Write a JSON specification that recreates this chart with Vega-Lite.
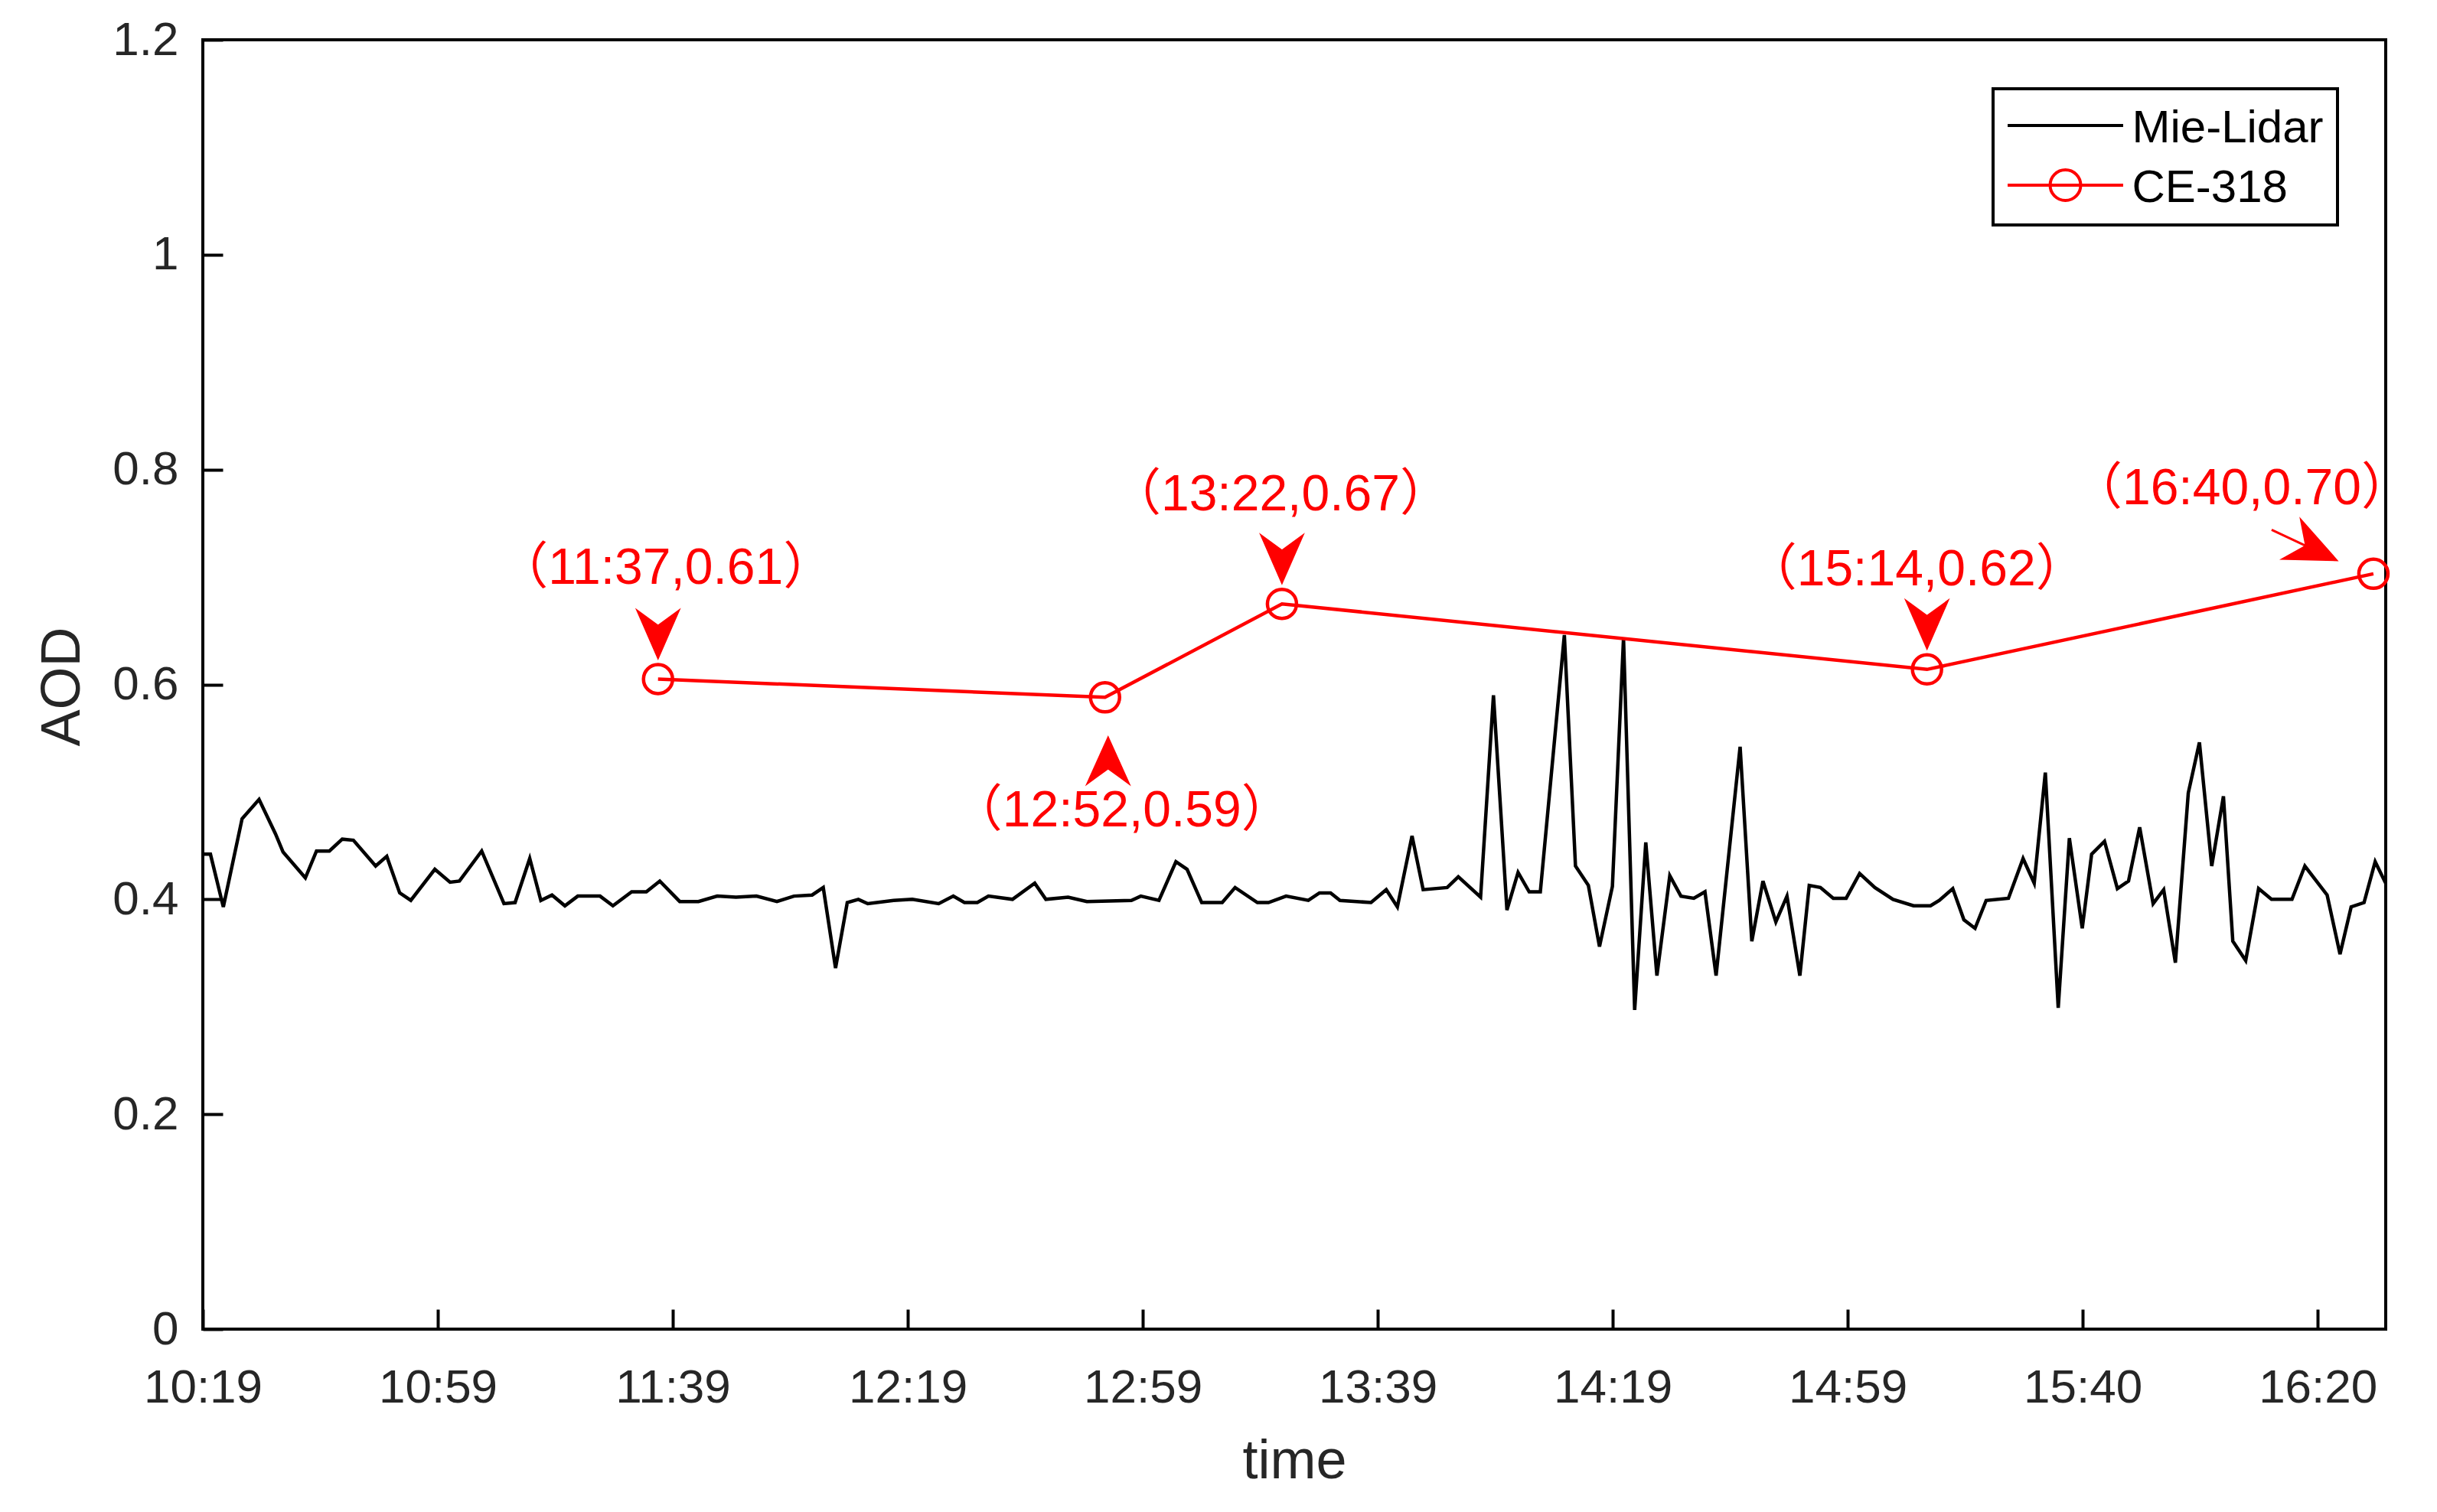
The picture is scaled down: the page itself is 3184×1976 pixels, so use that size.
{
  "$schema": "https://vega.github.io/schema/vega-lite/v6.json",
  "width": 2852,
  "height": 1685,
  "autosize": {"type": "none"},
  "padding": {"left": 265, "top": 52, "right": 67, "bottom": 239},
  "background": "white",
  "config": {
    "view": {"stroke": "black", "strokeWidth": 4},
    "font": "Liberation Sans"
  },
  "datasets": {
    "lidar": [
      {"t":619.0,"aod":0.442,"series":"Mie-Lidar"},{"t":620.3,"aod":0.442,"series":"Mie-Lidar"},{"t":622.5,"aod":0.393,"series":"Mie-Lidar"},{"t":625.7,"aod":0.475,"series":"Mie-Lidar"},{"t":628.6,"aod":0.493,"series":"Mie-Lidar"},{"t":631.4,"aod":0.461,"series":"Mie-Lidar"},{"t":632.7,"aod":0.444,"series":"Mie-Lidar"},{"t":636.5,"aod":0.420,"series":"Mie-Lidar"},{"t":638.4,"aod":0.445,"series":"Mie-Lidar"},{"t":640.6,"aod":0.445,"series":"Mie-Lidar"},{"t":642.8,"aod":0.456,"series":"Mie-Lidar"},{"t":644.7,"aod":0.455,"series":"Mie-Lidar"},{"t":648.5,"aod":0.431,"series":"Mie-Lidar"},{"t":650.4,"aod":0.440,"series":"Mie-Lidar"},{"t":652.6,"aod":0.406,"series":"Mie-Lidar"},{"t":654.5,"aod":0.399,"series":"Mie-Lidar"},{"t":658.6,"aod":0.428,"series":"Mie-Lidar"},{"t":661.2,"aod":0.416,"series":"Mie-Lidar"},{"t":662.8,"aod":0.417,"series":"Mie-Lidar"},{"t":666.6,"aod":0.445,"series":"Mie-Lidar"},{"t":670.4,"aod":0.396,"series":"Mie-Lidar"},{"t":672.3,"aod":0.397,"series":"Mie-Lidar"},{"t":674.8,"aod":0.438,"series":"Mie-Lidar"},{"t":676.7,"aod":0.399,"series":"Mie-Lidar"},{"t":678.6,"aod":0.404,"series":"Mie-Lidar"},{"t":680.8,"aod":0.394,"series":"Mie-Lidar"},{"t":683.0,"aod":0.403,"series":"Mie-Lidar"},{"t":686.8,"aod":0.403,"series":"Mie-Lidar"},{"t":689.0,"aod":0.394,"series":"Mie-Lidar"},{"t":692.2,"aod":0.407,"series":"Mie-Lidar"},{"t":694.7,"aod":0.407,"series":"Mie-Lidar"},{"t":697.0,"aod":0.417,"series":"Mie-Lidar"},{"t":700.4,"aod":0.398,"series":"Mie-Lidar"},{"t":703.6,"aod":0.398,"series":"Mie-Lidar"},{"t":706.8,"aod":0.403,"series":"Mie-Lidar"},
      {"t":710.0,"aod":0.402,"series":"Mie-Lidar"},{"t":713.5,"aod":0.403,"series":"Mie-Lidar"},{"t":717.0,"aod":0.398,"series":"Mie-Lidar"},{"t":719.9,"aod":0.403,"series":"Mie-Lidar"},{"t":723.0,"aod":0.404,"series":"Mie-Lidar"},{"t":724.9,"aod":0.411,"series":"Mie-Lidar"},{"t":727.0,"aod":0.336,"series":"Mie-Lidar"},{"t":729.0,"aod":0.397,"series":"Mie-Lidar"},{"t":730.9,"aod":0.400,"series":"Mie-Lidar"},{"t":732.5,"aod":0.396,"series":"Mie-Lidar"},{"t":736.9,"aod":0.399,"series":"Mie-Lidar"},{"t":740.1,"aod":0.400,"series":"Mie-Lidar"},{"t":744.6,"aod":0.396,"series":"Mie-Lidar"},{"t":747.1,"aod":0.403,"series":"Mie-Lidar"},{"t":749.0,"aod":0.397,"series":"Mie-Lidar"},{"t":751.2,"aod":0.397,"series":"Mie-Lidar"},{"t":753.1,"aod":0.403,"series":"Mie-Lidar"},{"t":757.2,"aod":0.400,"series":"Mie-Lidar"},{"t":761.0,"aod":0.415,"series":"Mie-Lidar"},{"t":762.9,"aod":0.400,"series":"Mie-Lidar"},{"t":766.7,"aod":0.402,"series":"Mie-Lidar"},{"t":769.9,"aod":0.398,"series":"Mie-Lidar"},{"t":777.5,"aod":0.399,"series":"Mie-Lidar"},{"t":779.1,"aod":0.403,"series":"Mie-Lidar"},{"t":782.2,"aod":0.399,"series":"Mie-Lidar"},{"t":785.1,"aod":0.435,"series":"Mie-Lidar"},{"t":787.0,"aod":0.428,"series":"Mie-Lidar"},{"t":789.5,"aod":0.397,"series":"Mie-Lidar"},{"t":793.0,"aod":0.397,"series":"Mie-Lidar"},{"t":795.2,"aod":0.411,"series":"Mie-Lidar"},{"t":799.0,"aod":0.397,"series":"Mie-Lidar"},{"t":800.9,"aod":0.397,"series":"Mie-Lidar"},
      {"t":803.9,"aod":0.403,"series":"Mie-Lidar"},{"t":807.7,"aod":0.399,"series":"Mie-Lidar"},{"t":809.6,"aod":0.406,"series":"Mie-Lidar"},{"t":811.5,"aod":0.406,"series":"Mie-Lidar"},{"t":813.1,"aod":0.399,"series":"Mie-Lidar"},{"t":818.4,"aod":0.397,"series":"Mie-Lidar"},{"t":821.0,"aod":0.409,"series":"Mie-Lidar"},{"t":822.9,"aod":0.393,"series":"Mie-Lidar"},{"t":825.4,"aod":0.459,"series":"Mie-Lidar"},{"t":827.3,"aod":0.409,"series":"Mie-Lidar"},{"t":831.4,"aod":0.411,"series":"Mie-Lidar"},{"t":833.3,"aod":0.421,"series":"Mie-Lidar"},{"t":837.1,"aod":0.402,"series":"Mie-Lidar"},{"t":839.3,"aod":0.590,"series":"Mie-Lidar"},{"t":841.6,"aod":0.390,"series":"Mie-Lidar"},{"t":843.5,"aod":0.425,"series":"Mie-Lidar"},{"t":845.4,"aod":0.407,"series":"Mie-Lidar"},{"t":847.3,"aod":0.407,"series":"Mie-Lidar"},{"t":851.4,"aod":0.646,"series":"Mie-Lidar"},{"t":853.3,"aod":0.431,"series":"Mie-Lidar"},{"t":855.5,"aod":0.413,"series":"Mie-Lidar"},{"t":857.4,"aod":0.356,"series":"Mie-Lidar"},{"t":859.6,"aod":0.412,"series":"Mie-Lidar"},{"t":861.5,"aod":0.643,"series":"Mie-Lidar"},{"t":863.4,"aod":0.297,"series":"Mie-Lidar"},{"t":865.3,"aod":0.453,"series":"Mie-Lidar"},{"t":867.2,"aod":0.329,"series":"Mie-Lidar"},{"t":869.4,"aod":0.422,"series":"Mie-Lidar"},{"t":871.3,"aod":0.403,"series":"Mie-Lidar"},{"t":873.5,"aod":0.401,"series":"Mie-Lidar"},{"t":875.4,"aod":0.407,"series":"Mie-Lidar"},{"t":877.3,"aod":0.329,"series":"Mie-Lidar"},{"t":881.4,"aod":0.542,"series":"Mie-Lidar"},{"t":883.4,"aod":0.361,"series":"Mie-Lidar"},{"t":885.3,"aod":0.417,"series":"Mie-Lidar"},{"t":887.5,"aod":0.379,"series":"Mie-Lidar"},{"t":889.4,"aod":0.403,"series":"Mie-Lidar"},{"t":891.6,"aod":0.329,"series":"Mie-Lidar"},{"t":893.2,"aod":0.413,"series":"Mie-Lidar"},{"t":895.1,"aod":0.411,"series":"Mie-Lidar"},{"t":897.3,"aod":0.401,"series":"Mie-Lidar"},{"t":899.5,"aod":0.401,"series":"Mie-Lidar"},
      {"t":901.8,"aod":0.424,"series":"Mie-Lidar"},{"t":904.4,"aod":0.411,"series":"Mie-Lidar"},{"t":907.5,"aod":0.400,"series":"Mie-Lidar"},{"t":911.0,"aod":0.394,"series":"Mie-Lidar"},{"t":913.9,"aod":0.394,"series":"Mie-Lidar"},{"t":915.4,"aod":0.399,"series":"Mie-Lidar"},{"t":917.7,"aod":0.410,"series":"Mie-Lidar"},{"t":919.6,"aod":0.381,"series":"Mie-Lidar"},{"t":921.5,"aod":0.373,"series":"Mie-Lidar"},{"t":923.4,"aod":0.399,"series":"Mie-Lidar"},{"t":927.2,"aod":0.401,"series":"Mie-Lidar"},{"t":929.7,"aod":0.438,"series":"Mie-Lidar"},{"t":931.6,"aod":0.415,"series":"Mie-Lidar"},{"t":933.5,"aod":0.518,"series":"Mie-Lidar"},{"t":935.7,"aod":0.299,"series":"Mie-Lidar"},{"t":937.6,"aod":0.457,"series":"Mie-Lidar"},{"t":939.8,"aod":0.373,"series":"Mie-Lidar"},{"t":941.4,"aod":0.442,"series":"Mie-Lidar"},{"t":943.6,"aod":0.454,"series":"Mie-Lidar"},{"t":945.8,"aod":0.410,"series":"Mie-Lidar"},{"t":947.7,"aod":0.417,"series":"Mie-Lidar"},{"t":949.6,"aod":0.467,"series":"Mie-Lidar"},{"t":951.9,"aod":0.396,"series":"Mie-Lidar"},{"t":953.7,"aod":0.409,"series":"Mie-Lidar"},{"t":955.7,"aod":0.341,"series":"Mie-Lidar"},{"t":957.9,"aod":0.499,"series":"Mie-Lidar"},{"t":959.8,"aod":0.546,"series":"Mie-Lidar"},{"t":961.9,"aod":0.431,"series":"Mie-Lidar"},{"t":963.9,"aod":0.496,"series":"Mie-Lidar"},{"t":965.5,"aod":0.361,"series":"Mie-Lidar"},{"t":967.7,"aod":0.343,"series":"Mie-Lidar"},{"t":969.9,"aod":0.410,"series":"Mie-Lidar"},{"t":972.1,"aod":0.400,"series":"Mie-Lidar"},{"t":975.6,"aod":0.400,"series":"Mie-Lidar"},{"t":977.8,"aod":0.431,"series":"Mie-Lidar"},{"t":981.6,"aod":0.404,"series":"Mie-Lidar"},{"t":983.8,"aod":0.349,"series":"Mie-Lidar"},{"t":985.7,"aod":0.393,"series":"Mie-Lidar"},{"t":987.9,"aod":0.397,"series":"Mie-Lidar"},{"t":989.8,"aod":0.435,"series":"Mie-Lidar"},{"t":991.6,"aod":0.415,"series":"Mie-Lidar"}
    ],
    "ce": [
      {"t":696.7,"aod":0.605,"series":"CE-318","label":"（11:37,0.61）"},
      {"t":773.0,"aod":0.588,"series":"CE-318","label":"（12:52,0.59）"},
      {"t":803.2,"aod":0.675,"series":"CE-318","label":"（13:22,0.67）"},
      {"t":913.3,"aod":0.614,"series":"CE-318","label":"（15:14,0.62）"},
      {"t":989.5,"aod":0.703,"series":"CE-318","label":"（16:40,0.70）"}
    ]
  },
  "encoding": {
    "x": {
      "field": "t", "type": "quantitative",
      "scale": {"domain": [619, 991.6], "nice": false, "zero": false},
      "axis": {
        "values": [619, 659.111, 699.222, 739.333, 779.444, 819.556, 859.667, 899.778, 939.889, 980],
        "labelExpr": "['10:19','10:59','11:39','12:19','12:59','13:39','14:19','14:59','15:40','16:20'][round((datum.value-619)/40.111)]",
        "domain": false, "grid": false,
        "tickSize": -26, "tickWidth": 4, "tickColor": "black",
        "labelPadding": 72, "labelFontSize": 62, "labelFont": "Liberation Sans", "labelColor": "#262626",
        "labelFlush": false, "labelOverlap": false,
        "title": "time", "titleFontSize": 72, "titleFont": "Liberation Sans", "titleFontWeight": "normal", "titleColor": "#262626",
        "titleY": 172, "titleBaseline": "middle"
      }
    },
    "y": {
      "field": "aod", "type": "quantitative",
      "scale": {"domain": [0, 1.2], "nice": false, "zero": true},
      "axis": {
        "values": [0, 0.2, 0.4, 0.6, 0.8, 1, 1.2],
        "format": "~g",
        "domain": false, "grid": false,
        "tickSize": -26, "tickWidth": 4, "tickColor": "black",
        "labelPadding": 58, "labelFontSize": 62, "labelFont": "Liberation Sans", "labelColor": "#262626",
        "labelFlush": false, "labelOverlap": false,
        "title": "AOD", "titleFontSize": 72, "titleFont": "Liberation Sans", "titleFontWeight": "normal", "titleColor": "#262626",
        "titleX": -184, "titleY": 845, "titleBaseline": "middle", "titleAlign": "center", "titleAngle": -90
      }
    }
  },
  "layer": [
    {
      "data": {"name": "lidar"},
      "mark": {"type": "line", "strokeWidth": 4.5, "clip": true},
      "encoding": {
        "color": {
          "field": "series", "type": "nominal",
          "scale": {"domain": ["Mie-Lidar", "CE-318"], "range": ["#000000", "#ff0000"]},
          "legend": {
            "orient": "none", "legendX": 2339, "legendY": 64,
            "title": null, "padding": 18,
            "fillColor": "white", "strokeColor": "black",
            "labelFontSize": 60, "labelFont": "Liberation Sans", "labelColor": "black", "labelLimit": 800,
            "symbolSize": 900, "symbolStrokeWidth": 4, "symbolOffset": 46.5,
            "labelOffset": 57, "rowPadding": 14,
            "symbolType": "M-5.03,0H5.03",
            "encode": {
              "legend": {"update": {"strokeWidth": {"value": 4}}},
              "labels": {"update": {"dy": {"value": 4}}},
              "symbols": {"update": {
                "shape": {"signal": "datum.value === 'CE-318' ? 'M-5.03,0H5.03M1.33,0A1.33,1.33,0,1,1,-1.33,0A1.33,1.33,0,1,1,1.33,0' : 'M-5.03,0H5.03'"},
                "fill": {"value": "transparent"},
                "strokeWidth": {"value": 4}
              }}
            }
          }
        }
      }
    },
    {
      "data": {"name": "ce"},
      "mark": {"type": "line", "strokeWidth": 4.5, "clip": true},
      "encoding": {
        "color": {"field": "series", "type": "nominal"}
      }
    },
    {
      "data": {"name": "ce"},
      "mark": {"type": "point", "shape": "circle", "size": 1444, "filled": false, "strokeWidth": 4.5, "color": "#ff0000", "opacity": 1}
    },
    {
      "data": {"name": "ce"},
      "transform": [{"filter": "datum.label !== '（12:52,0.59）' && datum.label !== '（16:40,0.70）'"}],
      "mark": {"type": "point", "shape": "M0,-27L27.5,-90L0,-70L-27.5,-90Z", "size": 4, "filled": true, "color": "#ff0000", "stroke": "#ff0000", "strokeWidth": 2, "opacity": 1}
    },
    {
      "data": {"name": "ce"},
      "transform": [{"filter": "datum.label === '（12:52,0.59）'"}],
      "mark": {"type": "point", "shape": "M4,52L31.5,113L4,93L-23.5,113Z", "size": 4, "filled": true, "color": "#ff0000", "stroke": "#ff0000", "strokeWidth": 2, "opacity": 1}
    },
    {
      "data": {"name": "ce"},
      "transform": [{"filter": "datum.label === '（16:40,0.70）'"}],
      "mark": {"type": "point", "shape": "M-133,-57.4L-87.7,-36.2M-48.7,-18L-94.2,-69.5L-87.7,-36.2L-117.4,-19.7Z", "size": 4, "filled": true, "color": "#ff0000", "stroke": "#ff0000", "strokeWidth": 3, "opacity": 1}
    },
    {
      "data": {"name": "ce"},
      "transform": [{"filter": "datum.label === '（11:37,0.61）'"}],
      "mark": {"type": "text", "font": "Liberation Sans, Noto Sans CJK SC", "fontSize": 66, "color": "#ff0000", "align": "center", "baseline": "middle", "dx": 10, "dy": -144},
      "encoding": {"text": {"field": "label", "type": "nominal"}}
    },
    {
      "data": {"name": "ce"},
      "transform": [{"filter": "datum.label === '（12:52,0.59）'"}],
      "mark": {"type": "text", "font": "Liberation Sans, Noto Sans CJK SC", "fontSize": 66, "color": "#ff0000", "align": "center", "baseline": "middle", "dx": 22, "dy": 149},
      "encoding": {"text": {"field": "label", "type": "nominal"}}
    },
    {
      "data": {"name": "ce"},
      "transform": [{"filter": "datum.label === '（13:22,0.67）'"}],
      "mark": {"type": "text", "font": "Liberation Sans, Noto Sans CJK SC", "fontSize": 66, "color": "#ff0000", "align": "center", "baseline": "middle", "dx": -2, "dy": -142},
      "encoding": {"text": {"field": "label", "type": "nominal"}}
    },
    {
      "data": {"name": "ce"},
      "transform": [{"filter": "datum.label === '（15:14,0.62）'"}],
      "mark": {"type": "text", "font": "Liberation Sans, Noto Sans CJK SC", "fontSize": 66, "color": "#ff0000", "align": "center", "baseline": "middle", "dx": -14, "dy": -130},
      "encoding": {"text": {"field": "label", "type": "nominal"}}
    },
    {
      "data": {"name": "ce"},
      "transform": [{"filter": "datum.label === '（16:40,0.70）'"}],
      "mark": {"type": "text", "font": "Liberation Sans, Noto Sans CJK SC", "fontSize": 66, "color": "#ff0000", "align": "center", "baseline": "middle", "dx": -172, "dy": -111},
      "encoding": {"text": {"field": "label", "type": "nominal"}}
    }
  ]
}
